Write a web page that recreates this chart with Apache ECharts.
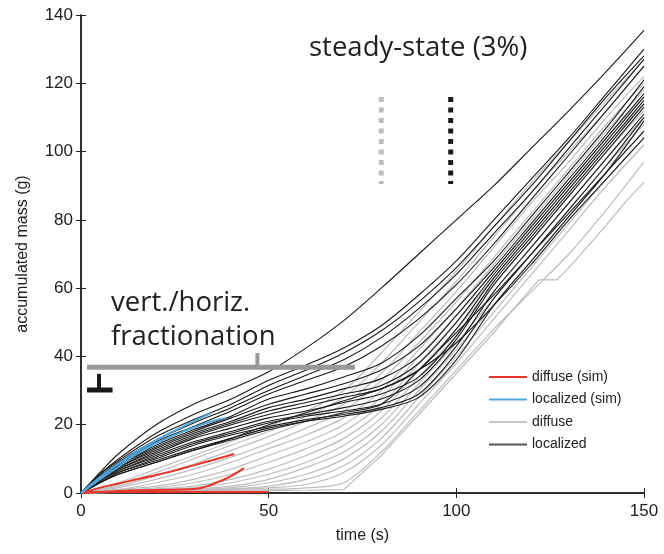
<!DOCTYPE html>
<html>
<head>
<meta charset="utf-8">
<script src="https://cdn.jsdelivr.net/npm/echarts@6/dist/echarts.min.js"></script>
<style>html,body{margin:0;padding:0;background:#fff}#c{width:664px;height:554px}</style>
</head>
<body>
<div id="c"></div>
<script>
// time grid shared by the measured curves (s)
const T = [0,5,10,20,30,40,50,60,70,80,90,100,110,120,130,140,150];

// localized (black) curves, accumulated mass (g) at T
const L1  = [0,6,11.5,20,26,30.5,35.5,42.5,50.5,60,70,80,90,101,112,123.5,135.5];
const B1  = [0,5.5,10,17.5,23,27.5,33,37.5,42.5,49,58,68,80,92,104,117,130];
const B2  = [0,5.5,9.5,16.5,21.5,26,31.5,36,41,47.5,56,66,78,90,103,116,128];
const B3  = [0,5,9,15.5,20.5,25,30,34.5,39,45.5,54,64,76,88,101,114,127];
const B4  = [0,5,8.5,15,19.5,24,29,33,37,43,51,61,73,86,99,112,125];
const C1  = [0,4.5,8,14,18.5,22.5,27.5,30.5,34,38,46,57,68,81,94,107,121];
const C2  = [0,4.5,8,13.5,18,22,26,29,32,36,43,54,66,79,92,105,119];
const C3  = [0,4,7.5,13,17.5,21,25,27.5,30.5,33.5,40,52,65,78,91,104,117];
const C4  = [0,4,7.5,12.5,17,20.5,24,26.5,29,31.5,38,50,64,77,90,103,116];
const C5  = [0,4,7,12,16.5,20,23,25.5,28,30.5,36,48,63,76,89,102,115];
const C6  = [0,3.5,7,11.5,16,19,22,24,26.5,29,34,46,62,75,88,101,114];
const C7  = [0,3.5,6.5,11,15,18,21,23,25,27.5,33,45,61,74,87,100,113];
const C8  = [0,3.5,6.5,10.5,14.5,17.5,20.5,22.5,24,26,31,43,59,72,85,98,111];
const C9  = [0,3,6,10,14,17,19.5,21.5,23,25,29,41,57,70,83,96,110];
const C10 = [0,3,6,9.5,13,16,19,21,22.5,24.5,28,39,55,68,81,94,109];
const D1  = [0,3,5.5,9,12.5,15.5,18.5,21,23.5,26,36,47,58,70,82,94,106];
const D2  = [0,3,5.5,9,12.5,16,20,23.5,27,30.5,36,44,55,67,80,92,104];

// diffuse (gray) curves at T
const G1  = [0,1.5,3,7,11,15,19.5,24,30,41,53,65,78,91,103,115,127];
const G2  = [0,1,2.5,6,10,14,18,22.5,28,38,50,62,75,88,100,112,125];
const G3  = [0,1,2,5,8.5,12.5,16.5,21,26,35,47,59,72,85,97,110,122];
const G4  = [0,0.8,1.6,4,7,10.5,14.5,19,24,33,44,56,69,82,95,108,120];
const G5  = [0,0.5,1,3,5.5,9,13,17,22,30,42,54,67,80,93,106,118];
const G6  = [0,0.5,1,2,4,7,11,15,20,28,40,52,65,78,91,104,116];
const G7  = [0,0.3,0.6,1.5,3,5.5,9,13,18,26,38,50,63,76,89,102,114];
const G8  = [0,0.3,0.6,1.2,2,4,7,11,16,24,36,48,61,74,87,100,112];
const G9  = [0,0.2,0.4,1,1.5,3,5.5,9,14,22,34,46,59,72,85,98,110];
const G10 = [0,0.2,0.4,0.8,1.2,2,4,7.5,12,20,32,44,57,70,83,96,108];
const G11 = [0,0.2,0.3,0.6,1,1.5,3,5.5,10,18,30,42,55,68,81,94,106];
const G12 = [0,0.1,0.2,0.5,0.8,1.2,2,4,8,16,28,40,53,66,79,92,104];
const G13 = [0,0.1,0.2,0.4,0.6,1,1.5,2.5,6,14,26,38,51,64,77,90,102];
const G14 = [0,0.1,0.2,0.3,0.5,0.8,1,1.5,3,12,24,36,48,59,70,83,97];
// lowest diffuse curve has its own time points (flat step near 122-127 s)
const G15T = [0,20,40,60,70,80,90,100,110,115,122,126.8,130,140,145.5,150];
const G15  = [0,0.2,0.5,0.8,1,11,23,35,47,53.6,62.4,62.4,66,78.5,85.8,91];

// simulations
const red1T = [0,5,10,15,20,25,30,35,40.8];
const red1  = [0,1.5,2.8,4,5.3,6.6,8.1,9.6,11.4];
const red2T = [0,10,20,30,33,36,39,41,43.4];
const red2  = [0,0.6,0.9,1.2,1.8,3,4.4,5.6,7.3];
const red3T = [0,49.7];
const red3  = [0.3,0.3];
const blue1T = [0,5,10,15,20,25,30,34.6];
const blue1  = [0,4.6,8.6,12.2,15.4,18.3,21,23.4];
const blue2T = [0,5,10,15,20,25,30,35,38.7];
const blue2  = [0,4,7.7,11.5,14.5,17,19.2,21,22];

// annotations
const grayDotT = [80,80];     const grayDotY = [116,90.5];
const blackDotT = [98.5,98.5]; const blackDotY = [116,90.5];
const barT = [1.6,73];        const barY = [36.8,36.8];
const barTickT = [47,47];     const barTickY = [36.8,41];
const tVertT = [4.8,4.8];     const tVertY = [30.2,34.9];
const tHorT = [1.6,8.4];      const tHorY = [30.2,30.2];

const xTicks = [0,50,100,150];
const yTicks = [0,20,40,60,80,100,120,140];

const pairs = (t, v) => t.map((x, i) => [x, v[i]]);

const series = [];
const grays = [G1,G2,G3,G4,G5,G6,G7,G8,G9,G10,G11,G12,G13,G14];
grays.forEach(v => series.push({type:'line', name:'diffuse', data:pairs(T,v), symbol:'none', smooth:0.3, silent:true, z:2,
  lineStyle:{color:'#bdbdbd', width:1.2}, itemStyle:{color:'#c4c4c4'}}));
series.push({type:'line', name:'diffuse', data:pairs(G15T,G15), symbol:'none', silent:true, z:2,
  lineStyle:{color:'#bdbdbd', width:1.2}, itemStyle:{color:'#c4c4c4'}});
const blacks = [L1,B1,B2,B3,B4,C1,C2,C3,C4,C5,C6,C7,C8,C9,C10,D1,D2];
blacks.forEach(v => series.push({type:'line', name:'localized', data:pairs(T,v), symbol:'none', smooth:0.3, silent:true, z:3,
  lineStyle:{color:'#1a1a1a', width:1.1}, itemStyle:{color:'#555'}}));
[[red1T,red1],[red2T,red2],[red3T,red3]].forEach(([t,v]) => series.push({type:'line', name:'diffuse (sim)', data:pairs(t,v),
  symbol:'none', smooth:true, silent:true, z:4, lineStyle:{color:'#e8352a', width:2}, itemStyle:{color:'#e8352a'}}));
[[blue1T,blue1],[blue2T,blue2]].forEach(([t,v]) => series.push({type:'line', name:'localized (sim)', data:pairs(t,v),
  symbol:'none', smooth:true, silent:true, z:4, lineStyle:{color:'#4ea6dc', width:2}, itemStyle:{color:'#4ea6dc'}}));

const ann = (t, y, color, width, extra) => ({type:'line', data:pairs(t,y), symbol:'none', silent:true, z:5,
  lineStyle:Object.assign({color:color, width:width, cap:'butt'}, extra || {})});
series.push(ann(grayDotT, grayDotY, '#bdbdbd', 5, {type:[5,5.5]}));
series.push(ann(blackDotT, blackDotY, '#1a1a1a', 5, {type:[5,5.5]}));
series.push(ann(barT, barY, '#999999', 5));
series.push(ann(barTickT, barTickY, '#999999', 4));
series.push(ann(tVertT, tVertY, '#1a1a1a', 4));
series.push(ann(tHorT, tHorY, '#1a1a1a', 5));

const font = 'Liberation Sans';
const legendNames = ['diffuse (sim)','localized (sim)','diffuse','localized'];
const chart = echarts.init(document.getElementById('c'), null, {renderer:'canvas'});
chart.setOption({
  animation:false,
  backgroundColor:'#fff',
  grid:{left:81, right:20, top:15, bottom:61},
  xAxis:[{type:'value', min:xTicks[0], max:xTicks[xTicks.length-1], interval:50,
      name:'time (s)', nameLocation:'middle', nameGap:35,
      nameTextStyle:{fontFamily:font, fontSize:16, color:'#222'},
      axisLine:{lineStyle:{color:'#222', width:1.5}},
      axisTick:{inside:true, length:5, lineStyle:{color:'#222'}},
      axisLabel:{fontFamily:font, fontSize:17, color:'#222', margin:10},
      splitLine:{show:false}},
    {type:'value', position:'top', min:0, max:150, interval:50,
      axisLine:{lineStyle:{color:'#222', width:1.5}},
      axisTick:{inside:true, length:5, lineStyle:{color:'#222'}},
      axisLabel:{show:false}, splitLine:{show:false}}],
  yAxis:[{type:'value', min:yTicks[0], max:yTicks[yTicks.length-1], interval:20,
      name:'accumulated mass (g)', nameLocation:'middle', nameGap:50,
      nameTextStyle:{fontFamily:font, fontSize:16, color:'#222'},
      axisLine:{show:true, lineStyle:{color:'#222', width:1.5}},
      axisTick:{show:true, inside:true, length:5, lineStyle:{color:'#222'}},
      axisLabel:{fontFamily:font, fontSize:17, color:'#222', margin:8},
      splitLine:{show:false}},
    {type:'value', position:'right', min:0, max:140, interval:20,
      axisLine:{show:true, lineStyle:{color:'#222', width:1.5}},
      axisTick:{show:true, inside:true, length:5, lineStyle:{color:'#222'}},
      axisLabel:{show:false}, splitLine:{show:false}}],
  legend:{data:legendNames.map(n => ({name:n, icon:'rect'})), orient:'vertical',
    left:489, top:369, padding:0, itemWidth:38, itemHeight:2, itemGap:6.5, selectedMode:false,
    textStyle:{fontFamily:font, fontSize:14, color:'#222', lineHeight:16}},
  graphic:[
    {type:'text', left:309, top:34, style:{text:'steady-state (3%)', font:'27.5px "Open Sans"', fill:'#222'}},
    {type:'text', left:111, top:289, style:{text:'vert./horiz.', font:'27.5px "Open Sans"', fill:'#222'}},
    {type:'text', left:111, top:323, style:{text:'fractionation', font:'27.5px "Open Sans"', fill:'#222'}}
  ],
  series:series
});
</script>
</body>
</html>
